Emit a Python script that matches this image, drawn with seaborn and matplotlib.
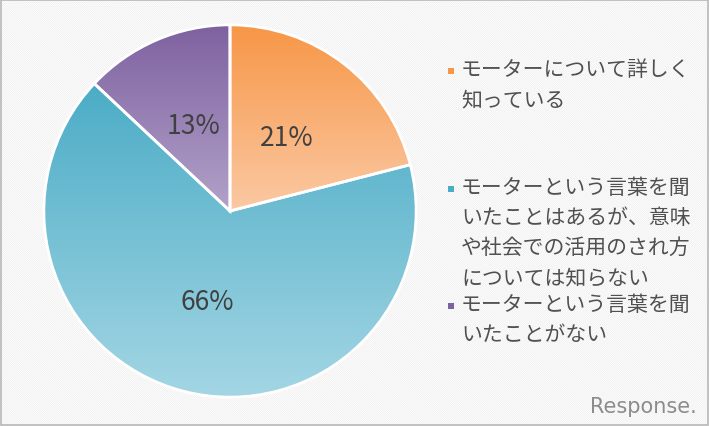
import numpy as np
import matplotlib
matplotlib.use('Agg')
import matplotlib.pyplot as plt
import seaborn as sns
from matplotlib.patches import Rectangle

# data
labels = ['モーターについて詳しく\n知っている',
          'モーターという言葉を聞\nいたことはあるが、意味\nや社会での活用のされ方\nについては知らない',
          'モーターという言葉を聞\nいたことがない']
values = [21, 66, 13]
top_colors = ['#F79646', '#4BACC6', '#7E61A0']
bottom_colors = ['#FBC9A4', '#A3D6E4', '#B2A2C9']

sns.set_theme(style='white')
plt.rcParams['font.family'] = ['Noto Sans CJK JP', 'DejaVu Sans']
plt.rcParams['hatch.linewidth'] = 0.6

fig = plt.figure(figsize=(7.09, 4.27), dpi=100)

# striped background + border
bg = Rectangle((0, 0), 1, 1, transform=fig.transFigure, facecolor='#ececec',
               edgecolor='#ffffff', hatch='\\' * 16, lw=0, zorder=-10)
fig.patches.append(bg)
border = Rectangle((0.002, 0.003), 0.996, 0.994, transform=fig.transFigure,
                   facecolor='none', edgecolor='#b8b8b8', lw=1.2, zorder=-5)
fig.patches.append(border)

ax = fig.add_axes([42 / 709, 27 / 427, 376 / 709, 376 / 427])
wedges, texts, autotexts = ax.pie(values, startangle=90, counterclock=False,
                                  colors=top_colors, autopct='%d%%', pctdistance=0.5,
                                  wedgeprops=dict(edgecolor='white', linewidth=2),
                                  textprops=dict(fontsize=19, color='#404040'))
ax.set_aspect('equal')
ax.axis('off')

# vertical gradient inside each slice
for w, c1, c2 in zip(wedges, top_colors, bottom_colors):
    cmap = sns.blend_palette([c2, c1], n_colors=256, as_cmap=True)
    ext = w.get_path().get_extents(w.get_patch_transform())
    grad = np.linspace(0, 1, 256).reshape(-1, 1)
    im = ax.imshow(grad, cmap=cmap, origin='lower', aspect='auto',
                   extent=[ext.x0, ext.x1, ext.y0, ext.y1], zorder=1)
    im.set_clip_path(w)
    w.set_facecolor('none')
    w.set_zorder(2)
for t in autotexts:
    t.set_zorder(3)
ax.set_xlim(-1.01, 1.01)
ax.set_ylim(-1.01, 1.01)

# legend drawn by hand so the entries sit at even steps
y_start = 1 - 62 / 427
step = 117.5 / 427
for i, (lab, c) in enumerate(zip(labels, top_colors)):
    y = y_start - i * step
    fig.patches.append(Rectangle((448 / 709, y - 13 / 427), 6 / 709, 6 / 427,
                                 transform=fig.transFigure, facecolor=c, lw=0))
    fig.text(461 / 709, y + 3 / 427, lab, fontsize=15, color='#505050',
             va='top', ha='left', linespacing=1.48)

# watermark
fig.text(697 / 709, 10 / 427, 'Response.', fontsize=15, color='#8c8c8c',
         ha='right', va='bottom', family='DejaVu Sans')

fig.savefig('out.png', dpi=100)
